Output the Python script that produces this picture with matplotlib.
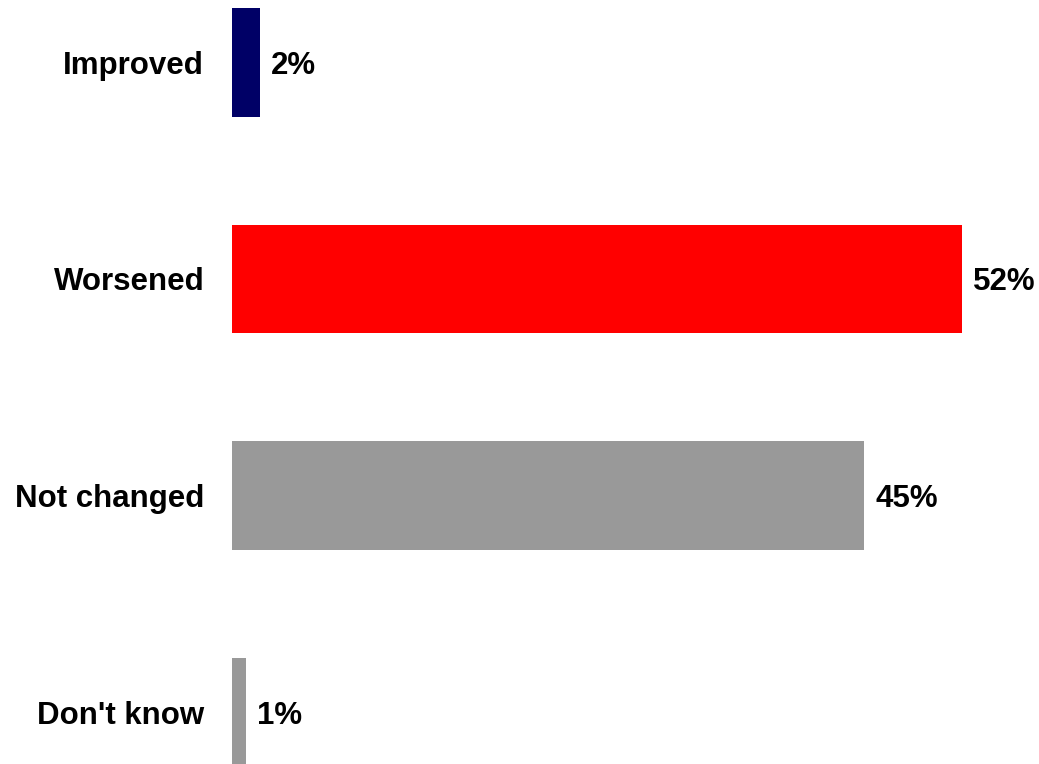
import matplotlib
matplotlib.use('Agg')
import matplotlib.pyplot as plt

categories = ['Improved', 'Worsened', 'Not changed', "Don't know"]
values = [2, 52, 45, 1]
colors = ['#000066', '#FF0000', '#999999', '#999999']

plt.rcParams['font.family'] = ['Liberation Sans', 'DejaVu Sans']

W, H = 1039, 764
fig = plt.figure(figsize=(W / 100, H / 100), dpi=100)
ax = fig.add_axes([232 / W, 0, 1 - 232 / W, 1])

pos = list(range(len(categories)))
ax.barh(pos, values, height=0.5, color=colors, edgecolor='none')

ax.set_xlim(0, (W - 232) / 14.04)
ax.set_ylim(3 + (H - 712) / 216.5, -62.5 / 216.5)

for p, v in zip(pos, values):
    ax.text(v + 0.8, p, f'{v}%', va='center_baseline', ha='left',
            fontsize=22.5, fontweight='bold')

ax.set_yticks(pos)
ax.set_yticklabels(categories, fontsize=22.5, fontweight='bold')
ax.tick_params(axis='y', length=0, pad=20)
ax.set_xticks([])
for s in ax.spines.values():
    s.set_visible(False)

fig.savefig('out.png', dpi=100)
